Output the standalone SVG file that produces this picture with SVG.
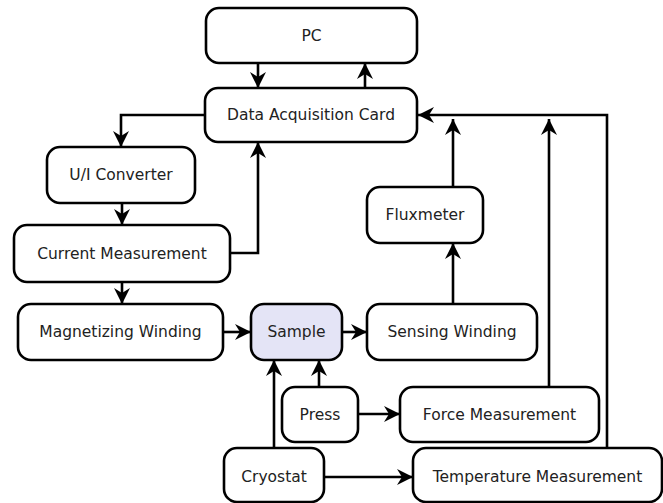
<svg xmlns="http://www.w3.org/2000/svg" width="663" height="503" viewBox="0 0 663 503">
  <style>
    .box rect { fill: #ffffff; stroke: #000000; stroke-width: 2.6; }
    #sample rect { fill: #e4e4f6; }
    .box text { font-family: "DejaVu Sans", "Liberation Sans", sans-serif; font-size: 15.5px; fill: #222222; text-anchor: middle; dominant-baseline: central; }
    #connectors path { fill: none; stroke: #000000; stroke-width: 2.6; marker-end: url(#arrow); }
  </style>
  <defs>
    <!-- notched arrowhead shared by every connector -->
    <marker id="arrow" markerUnits="userSpaceOnUse" markerWidth="18" markerHeight="18" refX="16" refY="8" orient="auto">
      <path d="M0,0 L16,8 L0,16 L5,8 Z" fill="#000000"/>
    </marker>
  </defs>

  <rect width="663" height="503" fill="#ffffff"/>

  <g id="connectors">
    <path d="M258,63 V88"/>
    <path d="M365,88 V63"/>
    <path d="M205,115 H121 V147"/>
    <path d="M122,203 V225"/>
    <path d="M230,253 H258 V142"/>
    <path d="M122,282 V304"/>
    <path d="M223,332 H251"/>
    <path d="M342,332 H367"/>
    <path d="M453,304 V243"/>
    <path d="M453,187 V119"/>
    <path d="M549,387 V119"/>
    <path d="M607,448 V115 H418"/>
    <path d="M274,448 V360"/>
    <path d="M319,387 V360"/>
    <path d="M358,414 H400"/>
    <path d="M324,477 H413"/>
  </g>

  <g id="pc" class="box">
    <rect x="206" y="8" width="211" height="55" rx="13"/>
    <text x="311.5" y="36">PC</text>
  </g>
  <g id="daq" class="box">
    <rect x="205" y="88" width="212" height="54" rx="13"/>
    <text x="311" y="115">Data Acquisition Card</text>
  </g>
  <g id="ui-converter" class="box">
    <rect x="47" y="147" width="148" height="56" rx="13"/>
    <text x="121" y="175">U/I Converter</text>
  </g>
  <g id="current-measurement" class="box">
    <rect x="14" y="225" width="216" height="57" rx="13"/>
    <text x="122" y="253.5">Current Measurement</text>
  </g>
  <g id="magnetizing-winding" class="box">
    <rect x="18" y="304" width="205" height="56" rx="13"/>
    <text x="120.5" y="332">Magnetizing Winding</text>
  </g>
  <g id="sample" class="box">
    <rect x="251" y="304" width="91" height="56" rx="13"/>
    <text x="296.5" y="332">Sample</text>
  </g>
  <g id="sensing-winding" class="box">
    <rect x="367" y="304" width="170" height="56" rx="13"/>
    <text x="452" y="332">Sensing Winding</text>
  </g>
  <g id="fluxmeter" class="box">
    <rect x="367" y="187" width="116" height="56" rx="13"/>
    <text x="425" y="215">Fluxmeter</text>
  </g>
  <g id="press" class="box">
    <rect x="282" y="387" width="76" height="55" rx="13"/>
    <text x="320" y="414.5">Press</text>
  </g>
  <g id="force-measurement" class="box">
    <rect x="400" y="387" width="199" height="55" rx="13"/>
    <text x="499.5" y="414.5">Force Measurement</text>
  </g>
  <g id="cryostat" class="box">
    <rect x="224" y="448" width="100" height="54" rx="13"/>
    <text x="274" y="477">Cryostat</text>
  </g>
  <g id="temperature-measurement" class="box">
    <rect x="413" y="448" width="249" height="54" rx="13"/>
    <text x="537.5" y="477">Temperature Measurement</text>
  </g>
</svg>
